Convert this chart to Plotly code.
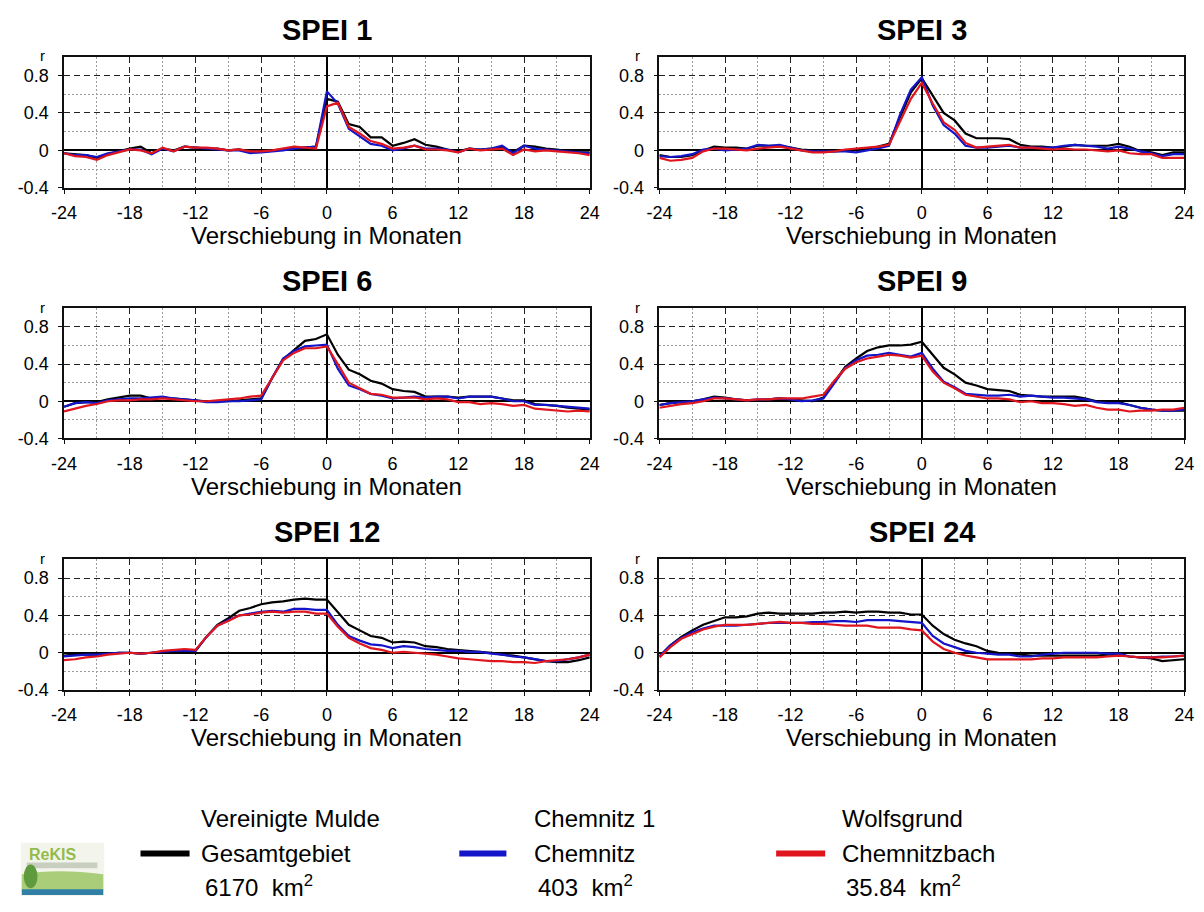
import plotly.graph_objects as go

# ---------------- data ----------------
lags = list(range(-24, 25))

panel_titles = ["SPEI 1", "SPEI 3", "SPEI 6", "SPEI 9", "SPEI 12", "SPEI 24"]
series_names = ["Gesamtgebiet", "Chemnitz", "Chemnitzbach"]
series_colors = ["#000000", "#1414c8", "#e0161e"]

x_tick_vals = [-24, -18, -12, -6, 0, 6, 12, 18, 24]
x_tick_text = ["-24", "-18", "-12", "-6", "0", "6", "12", "18", "24"]
y_tick_vals = [-0.4, 0, 0.4, 0.8]
y_tick_text = ["-0.4", "0", "0.4", "0.8"]

spei1_gesamt = [-0.03, -0.04, -0.05, -0.08, -0.04, -0.01, 0.02, 0.04, -0.03, 0.02, 0.00, 0.04, 0.03, 0.02, 0.02,
                0.00, 0.01, -0.02, -0.01, 0.00, 0.01, 0.02, 0.03, 0.04,
                0.55, 0.52, 0.28, 0.25, 0.14, 0.14, 0.05, 0.08, 0.12, 0.06, 0.04, 0.01, -0.01, 0.02, 0.01,
                0.02, 0.03, -0.02, 0.05, 0.04, 0.02, 0.01, -0.01, -0.02, -0.02]
spei1_chemnitz = [-0.03, -0.05, -0.05, -0.07, -0.03, -0.01, 0.01, 0.01, -0.04, 0.02, -0.01, 0.04, 0.03, 0.02, 0.01,
                  0.00, 0.00, -0.03, -0.02, -0.01, 0.00, 0.02, 0.03, 0.04,
                  0.63, 0.50, 0.23, 0.15, 0.07, 0.05, 0.00, 0.02, 0.05, 0.02, 0.02, 0.01, -0.02, 0.02, 0.01,
                  0.02, 0.05, -0.03, 0.05, 0.02, 0.01, 0.00, -0.01, -0.02, -0.03]
spei1_chemnitzbach = [-0.03, -0.06, -0.07, -0.10, -0.05, -0.02, 0.01, 0.00, -0.03, 0.03, -0.01, 0.04, 0.03, 0.03, 0.02,
                      0.00, 0.01, -0.01, -0.01, 0.00, 0.02, 0.04, 0.03, 0.02,
                      0.47, 0.51, 0.25, 0.18, 0.10, 0.07, 0.02, 0.03, 0.05, 0.01, 0.01, 0.00, -0.02, 0.02, 0.00,
                      0.01, 0.02, -0.05, 0.01, -0.01, 0.00, -0.01, -0.02, -0.03, -0.05]

spei3_gesamt = [-0.05, -0.07, -0.07, -0.05, 0.00, 0.04, 0.03, 0.03, 0.02, 0.05, 0.05, 0.05, 0.03, 0.01, 0.00,
                -0.01, -0.01, 0.00, 0.01, 0.02, 0.04, 0.07, 0.35, 0.62, 0.77, 0.58, 0.40, 0.32, 0.18, 0.13,
                0.13, 0.13, 0.12, 0.06, 0.04, 0.04, 0.03, 0.04, 0.06, 0.05, 0.05, 0.05, 0.07, 0.04, -0.01,
                -0.02, -0.05, -0.02, -0.02]
spei3_chemnitz = [-0.06, -0.07, -0.06, -0.04, 0.01, 0.02, 0.00, 0.01, 0.02, 0.06, 0.05, 0.06, 0.03, 0.00, -0.01,
                  -0.01, -0.01, -0.01, -0.02, 0.00, 0.02, 0.05, 0.38, 0.65, 0.78, 0.48, 0.27, 0.18, 0.05, 0.03,
                  0.03, 0.04, 0.05, 0.03, 0.03, 0.03, 0.03, 0.05, 0.06, 0.05, 0.04, 0.02, 0.04, 0.02, -0.01,
                  -0.03, -0.06, -0.04, -0.04]
spei3_chemnitzbach = [-0.08, -0.11, -0.10, -0.08, -0.01, 0.02, 0.02, 0.01, 0.00, 0.02, 0.03, 0.04, 0.02, 0.00, -0.02,
                      -0.02, -0.01, 0.01, 0.02, 0.03, 0.04, 0.06, 0.30, 0.55, 0.72, 0.50, 0.30, 0.22, 0.08, 0.03,
                      0.04, 0.05, 0.06, 0.03, 0.03, 0.02, 0.01, 0.02, 0.01, 0.01, 0.00, -0.01, 0.00, -0.03, -0.04,
                      -0.04, -0.08, -0.08, -0.08]

spei6_gesamt = [-0.06, -0.02, -0.01, -0.01, 0.02, 0.04, 0.06, 0.06, 0.03, 0.04, 0.03, 0.02, 0.01, 0.00, 0.00,
                0.00, 0.01, 0.02, 0.03, 0.25, 0.45, 0.55, 0.65, 0.67, 0.72, 0.50, 0.34, 0.29, 0.22, 0.19,
                0.13, 0.11, 0.10, 0.05, 0.05, 0.05, 0.04, 0.05, 0.05, 0.05, 0.03, 0.01, 0.01, -0.03, -0.04,
                -0.05, -0.07, -0.08, -0.09]
spei6_chemnitz = [-0.06, -0.02, -0.01, -0.02, 0.01, 0.02, 0.03, 0.03, 0.04, 0.05, 0.03, 0.02, 0.01, -0.01, -0.01,
                  0.00, 0.00, 0.01, 0.02, 0.25, 0.46, 0.54, 0.59, 0.60, 0.61, 0.35, 0.17, 0.13, 0.08, 0.06,
                  0.03, 0.04, 0.05, 0.04, 0.05, 0.05, 0.03, 0.05, 0.05, 0.05, 0.03, 0.00, 0.00, -0.04, -0.04,
                  -0.05, -0.06, -0.07, -0.08]
spei6_chemnitzbach = [-0.11, -0.08, -0.05, -0.03, 0.00, 0.01, 0.01, 0.02, 0.02, 0.03, 0.02, 0.01, 0.00, 0.00, 0.01,
                      0.02, 0.03, 0.05, 0.06, 0.25, 0.44, 0.52, 0.57, 0.57, 0.59, 0.40, 0.20, 0.14, 0.08, 0.07,
                      0.04, 0.04, 0.04, 0.02, 0.03, 0.02, -0.01, -0.01, -0.03, -0.02, -0.03, -0.05, -0.04, -0.08, -0.09,
                      -0.10, -0.11, -0.10, -0.11]

spei9_gesamt = [-0.04, -0.02, -0.01, 0.00, 0.02, 0.05, 0.04, 0.02, 0.01, 0.01, 0.02, 0.03, 0.02, 0.01, 0.00,
                0.04, 0.20, 0.37, 0.46, 0.54, 0.58, 0.60, 0.60, 0.61, 0.64, 0.50, 0.36, 0.29, 0.20, 0.17,
                0.13, 0.12, 0.11, 0.07, 0.06, 0.05, 0.05, 0.05, 0.05, 0.03, 0.00, -0.01, -0.01, -0.04, -0.07,
                -0.09, -0.10, -0.10, -0.10]
spei9_chemnitz = [-0.04, -0.02, -0.01, 0.00, 0.02, 0.04, 0.03, 0.02, 0.01, 0.02, 0.02, 0.03, 0.02, 0.00, 0.01,
                  0.03, 0.20, 0.36, 0.44, 0.49, 0.50, 0.52, 0.50, 0.48, 0.52, 0.35, 0.21, 0.15, 0.08, 0.07,
                  0.06, 0.06, 0.07, 0.05, 0.06, 0.05, 0.04, 0.04, 0.03, 0.02, -0.01, -0.02, -0.02, -0.04, -0.07,
                  -0.09, -0.10, -0.10, -0.09]
spei9_chemnitzbach = [-0.07, -0.05, -0.03, -0.02, 0.00, 0.03, 0.03, 0.02, 0.01, 0.02, 0.02, 0.03, 0.03, 0.03, 0.05,
                      0.07, 0.22, 0.35, 0.42, 0.46, 0.48, 0.50, 0.49, 0.47, 0.49, 0.32, 0.20, 0.14, 0.07, 0.05,
                      0.03, 0.03, 0.02, -0.01, 0.00, -0.02, -0.02, -0.03, -0.05, -0.04, -0.07, -0.09, -0.09, -0.11, -0.10,
                      -0.10, -0.09, -0.09, -0.07]

spei12_gesamt = [-0.03, -0.02, -0.02, -0.02, -0.01, 0.00, 0.00, -0.01, 0.00, 0.01, 0.01, 0.02, 0.02, 0.17, 0.30,
                 0.37, 0.45, 0.48, 0.52, 0.54, 0.55, 0.57, 0.58, 0.57, 0.57, 0.43, 0.30, 0.24, 0.18, 0.16,
                 0.11, 0.12, 0.11, 0.07, 0.06, 0.04, 0.03, 0.02, 0.01, 0.00, -0.02, -0.03, -0.05, -0.07, -0.09,
                 -0.10, -0.10, -0.08, -0.05]
spei12_chemnitz = [-0.04, -0.03, -0.02, -0.02, -0.01, 0.00, 0.00, -0.01, 0.00, 0.01, 0.02, 0.02, 0.02, 0.17, 0.29,
                   0.35, 0.40, 0.42, 0.44, 0.45, 0.44, 0.47, 0.47, 0.46, 0.46, 0.30, 0.18, 0.13, 0.09, 0.08,
                   0.05, 0.07, 0.06, 0.04, 0.03, 0.02, 0.02, 0.01, 0.01, -0.01, -0.02, -0.04, -0.05, -0.07, -0.09,
                   -0.09, -0.07, -0.05, -0.02]
spei12_chemnitzbach = [-0.08, -0.07, -0.05, -0.04, -0.02, -0.01, 0.00, -0.01, 0.00, 0.02, 0.03, 0.04, 0.03, 0.17, 0.29,
                       0.34, 0.40, 0.41, 0.43, 0.44, 0.43, 0.44, 0.44, 0.42, 0.42, 0.28, 0.16, 0.10, 0.05, 0.03,
                       0.00, 0.01, 0.00, -0.01, -0.02, -0.04, -0.06, -0.07, -0.08, -0.09, -0.09, -0.10, -0.10, -0.11, -0.09,
                       -0.08, -0.07, -0.05, -0.02]

spei24_gesamt = [-0.04, 0.08, 0.17, 0.24, 0.30, 0.34, 0.38, 0.38, 0.39, 0.42, 0.43, 0.42, 0.42, 0.42, 0.42,
                 0.43, 0.43, 0.44, 0.43, 0.44, 0.44, 0.43, 0.43, 0.41, 0.41, 0.29, 0.20, 0.14, 0.10, 0.07,
                 0.02, 0.00, -0.01, -0.02, -0.03, -0.03, -0.03, -0.03, -0.03, -0.03, -0.03, -0.02, -0.02, -0.04, -0.05,
                 -0.06, -0.09, -0.08, -0.07]
spei24_chemnitz = [-0.04, 0.08, 0.16, 0.22, 0.26, 0.29, 0.29, 0.29, 0.30, 0.31, 0.32, 0.32, 0.32, 0.32, 0.33,
                   0.33, 0.34, 0.34, 0.33, 0.35, 0.35, 0.35, 0.34, 0.33, 0.32, 0.18, 0.10, 0.06, 0.02, 0.00,
                   -0.01, -0.02, -0.02, -0.04, -0.04, -0.02, -0.01, 0.00, 0.00, 0.00, 0.00, -0.01, -0.01, -0.04, -0.05,
                   -0.05, -0.04, -0.04, -0.03]
spei24_chemnitzbach = [-0.05, 0.06, 0.15, 0.20, 0.25, 0.28, 0.30, 0.30, 0.30, 0.31, 0.32, 0.33, 0.32, 0.32, 0.31,
                       0.31, 0.30, 0.29, 0.29, 0.29, 0.27, 0.27, 0.27, 0.25, 0.24, 0.12, 0.04, 0.00, -0.03, -0.05,
                       -0.07, -0.07, -0.07, -0.07, -0.07, -0.06, -0.06, -0.05, -0.05, -0.05, -0.05, -0.04, -0.03, -0.04, -0.05,
                       -0.05, -0.05, -0.04, -0.03]

panel_series = [
    [spei1_gesamt, spei1_chemnitz, spei1_chemnitzbach],
    [spei3_gesamt, spei3_chemnitz, spei3_chemnitzbach],
    [spei6_gesamt, spei6_chemnitz, spei6_chemnitzbach],
    [spei9_gesamt, spei9_chemnitz, spei9_chemnitzbach],
    [spei12_gesamt, spei12_chemnitz, spei12_chemnitzbach],
    [spei24_gesamt, spei24_chemnitz, spei24_chemnitzbach],
]

legend_headers = ["Vereinigte Mulde", "Chemnitz 1", "Wolfsgrund"]
legend_areas = ["6170", "403", "35.84"]

# ---------------- layout helpers ----------------
W, H = 1204, 912
FONT = "Liberation Sans, Arial, Helvetica, sans-serif"


def px(x):
    return x / W


def py(y):
    return 1 - y / H


col_px = [(52, 588), (659, 1194)]
row_px = [(57.3, 190.0), (311.7, 443.3), (565.7, 697.7)]
title_y = [30, 284, 538]
axtitle_y = [238, 492, 746]

fig = go.Figure()
annotations = []
shapes = []

for i in range(6):
    r, c = divmod(i, 2)
    ax = "" if i == 0 else str(i + 1)
    for s in range(3):
        fig.add_trace(go.Scatter(
            x=lags, y=panel_series[i][s], mode="lines",
            line=dict(color=series_colors[s], width=2.2),
            xaxis="x" + ax, yaxis="y" + ax, showlegend=False,
            name=series_names[s]))
    x0, x1 = col_px[c]
    ytop, ybot = row_px[r]
    common = dict(showline=True, mirror=True, linecolor="#111111", linewidth=1.5,
                  zeroline=True, zerolinecolor="#000000", zerolinewidth=1.5,
                  showgrid=True, gridcolor="#222222", gridwidth=1, griddash="6px,4px",
                  ticks="outside", ticklen=4, tickcolor="#111111",
                  tickfont=dict(family=FONT, size=18, color="#000000"),
                  fixedrange=True)
    fig.layout["xaxis" + ax] = dict(
        domain=[px(x0), px(x1)], anchor="y" + ax, range=[-24, 24],
        tickmode="array", tickvals=x_tick_vals, ticktext=x_tick_text,
        minor=dict(tickmode="array", tickvals=[-21, -15, -9, -3, 3, 9, 15, 21],
                   showgrid=True, gridcolor="#9a9a9a", griddash="2px,2px", gridwidth=1, ticks=""),
        ticklabelstandoff=4,
        **common)
    fig.layout["yaxis" + ax] = dict(
        domain=[py(ybot), py(ytop)], anchor="x" + ax, range=[-0.4, 1.0],
        tickmode="array", tickvals=y_tick_vals, ticktext=y_tick_text,
        minor=dict(tickmode="array", tickvals=[-0.2, 0.2, 0.6],
                   showgrid=True, gridcolor="#9a9a9a", griddash="2px,2px", gridwidth=1, ticks=""),
        ticklabelstandoff=6,
        **common)
    xc = (x0 + x1) / 2
    annotations.append(dict(text="<b>%s</b>" % panel_titles[i], x=px(xc), y=py(title_y[r]),
                            xref="paper", yref="paper", showarrow=False,
                            xanchor="center", yanchor="middle",
                            font=dict(family=FONT, size=29, color="#000000")))
    annotations.append(dict(text="Verschiebung in Monaten", x=px(xc), y=py(axtitle_y[r]),
                            xref="paper", yref="paper", showarrow=False,
                            xanchor="center", yanchor="middle",
                            font=dict(family=FONT, size=24, color="#000000")))
    annotations.append(dict(text="r", x=px(x0 - 22), y=py(ytop - 1),
                            xref="paper", yref="paper", showarrow=False,
                            xanchor="center", yanchor="middle",
                            font=dict(family=FONT, size=15, color="#000000")))

# ---------------- legend (custom) ----------------
leg_line_x = [(130, 180), (455, 503), (778, 828)]
leg_text_x = [190, 529, 843]
for k in range(3):
    a, b = leg_line_x[k]
    shapes.append(dict(type="line", xref="paper", yref="paper",
                       x0=px(a), x1=px(b), y0=py(863), y1=py(863),
                       line=dict(color=series_colors[k], width=6)))
    annotations.append(dict(text=legend_headers[k], x=px(leg_text_x[k]), y=py(828),
                            xref="paper", yref="paper", showarrow=False,
                            xanchor="left", yanchor="middle",
                            font=dict(family=FONT, size=24, color="#000000")))
    annotations.append(dict(text=series_names[k], x=px(leg_text_x[k]), y=py(863),
                            xref="paper", yref="paper", showarrow=False,
                            xanchor="left", yanchor="middle",
                            font=dict(family=FONT, size=24, color="#000000")))
    annotations.append(dict(text="%s  km<sup>2</sup>" % legend_areas[k], x=px(leg_text_x[k] + 4), y=py(896),
                            xref="paper", yref="paper", showarrow=False,
                            xanchor="left", yanchor="middle",
                            font=dict(family=FONT, size=24, color="#000000")))

# ---------------- logo (approximation) ----------------
shapes += [
    dict(type="rect", xref="paper", yref="paper", x0=px(8), x1=px(93), y0=py(906), y1=py(852),
         fillcolor="#f3f5ec", line=dict(width=0), layer="below"),
    dict(type="rect", xref="paper", yref="paper", x0=px(14), x1=px(86), y0=py(878), y1=py(872),
         fillcolor="#c8cfc0", line=dict(width=0)),
    dict(type="path", xref="paper", yref="paper",
         path="M %f %f L %f %f Q %f %f %f %f L %f %f Z" % (px(9), py(901), px(9), py(884), px(45), py(878),
                                                          px(92), py(884), px(92), py(901)),
         fillcolor="#a9cd79", line=dict(width=0)),
    dict(type="circle", xref="paper", yref="paper", x0=px(11), x1=px(25), y0=py(898), y1=py(874),
         fillcolor="#5f9a3c", line=dict(width=0)),
    dict(type="rect", xref="paper", yref="paper", x0=px(9), x1=px(92), y0=py(905), y1=py(899),
         fillcolor="#2f7fa6", line=dict(width=0)),
]
annotations.append(dict(text="<b>ReKIS</b>", x=px(14), y=py(864), xref="paper", yref="paper",
                        showarrow=False, xanchor="left", yanchor="middle",
                        font=dict(family=FONT, size=16, color="#93bb4c")))

fig.update_layout(
    width=W, height=H, margin=dict(l=0, r=0, t=0, b=0),
    paper_bgcolor="#ffffff", plot_bgcolor="#ffffff",
    annotations=annotations, shapes=shapes, showlegend=False,
    font=dict(family=FONT, color="#000000"),
)

fig.write_html("out.html", config={"displayModeBar": False},
               post_script="document.body.style.margin='0';")
